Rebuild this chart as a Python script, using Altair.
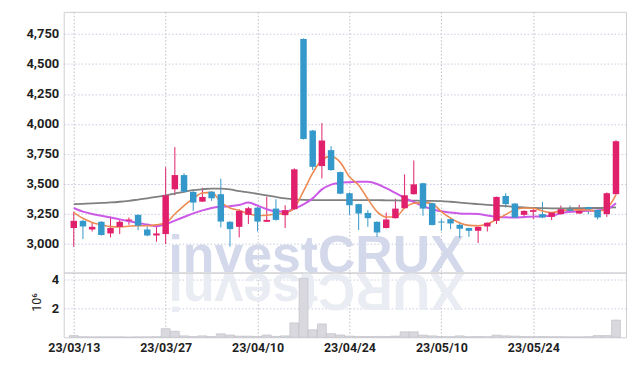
import altair as alt
import pandas as pd

# ---- data ----
tick_index = [0, 10, 20, 30, 40, 50]
tick_labels = ["23/03/13", "23/03/27", "23/04/10", "23/04/24", "23/05/10", "23/05/24"]
price_ticks = [3000, 3250, 3500, 3750, 4000, 4250, 4500, 4750]
volume_ticks = [2e6, 4e6]

opens = [3133, 3193, 3121, 3185, 3088, 3143, 3193, 3243, 3121, 3071,
         3083, 3456, 3574, 3434, 3353, 3436, 3415, 3185, 3143, 3243,
         3303, 3185, 3295, 3240, 3290, 4708, 3945, 3649, 3782, 3599,
         3423, 3332, 3259, 3185, 3133, 3215, 3298, 3415, 3506, 3340,
         3187, 3207, 3160, 3133, 3110, 3146, 3193, 3400, 3337, 3243,
         3268, 3249, 3226, 3249, 3290, 3254, 3307, 3284, 3249, 3415]
highs = [3268, 3200, 3179, 3190, 3229, 3201, 3221, 3245, 3146, 3143,
         3640, 3807, 3589, 3440, 3469, 3440, 3544, 3190, 3290, 3310,
         3308, 3395, 3373, 3323, 3630, 4712, 3950, 4008, 3815, 3603,
         3430, 3336, 3282, 3188, 3262, 3378, 3580, 3696, 3510, 3343,
         3207, 3210, 3185, 3136, 3145, 3180, 3395, 3423, 3340, 3279,
         3295, 3351, 3265, 3320, 3320, 3326, 3310, 3287, 3430, 3865]
lows = [2978, 3041, 3104, 3070, 3055, 3083, 3160, 3116, 3065, 3019,
        3000, 3406, 3430, 3276, 3350, 3359, 3138, 2978, 3055, 3166,
        3104, 3183, 3195, 3133, 3285, 3870, 3616, 3547, 3610, 3415,
        3243, 3116, 3143, 3060, 3130, 3212, 3295, 3412, 3235, 3155,
        3110, 3124, 3050, 3060, 3008, 3104, 3166, 3303, 3217, 3215,
        3207, 3215, 3199, 3245, 3262, 3252, 3249, 3204, 3226, 3412]
closes = [3193, 3146, 3143, 3075, 3133, 3185, 3204, 3152, 3071, 3088,
          3406, 3574, 3436, 3345, 3392, 3381, 3187, 3124, 3276, 3298,
          3187, 3201, 3201, 3282, 3622, 3875, 3643, 3862, 3616, 3419,
          3323, 3254, 3215, 3096, 3204, 3295, 3406, 3497, 3295, 3158,
          3179, 3171, 3127, 3110, 3143, 3177, 3392, 3332, 3220, 3276,
          3282, 3221, 3262, 3290, 3276, 3276, 3290, 3221, 3423, 3856]
volume_m = [0.12, 0.04, 0.03, 0.03, 0.03, 0.03, 0.02, 0.03, 0.03, 0.04,
            0.60, 0.42, 0.10, 0.05, 0.10, 0.05, 0.24, 0.16, 0.08, 0.08,
            0.06, 0.16, 0.06, 0.10, 1.00, 4.10, 0.52, 0.93, 0.25, 0.16,
            0.08, 0.06, 0.05, 0.06, 0.05, 0.08, 0.38, 0.38, 0.15, 0.10,
            0.05, 0.04, 0.10, 0.04, 0.05, 0.04, 0.15, 0.10, 0.08, 0.05,
            0.04, 0.05, 0.04, 0.04, 0.03, 0.03, 0.04, 0.12, 0.12, 1.20]
ma_short = [3262, 3215, 3180, 3160, 3145, 3143, 3148, 3152, 3152, 3160,
            3175, 3250, 3320, 3380, 3425, 3430, 3350, 3300, 3280, 3252,
            3238, 3240, 3250, 3258, 3300, 3440, 3590, 3700, 3732, 3680,
            3560, 3490, 3375, 3270, 3225, 3225, 3300, 3340, 3345, 3335,
            3270, 3215, 3175, 3155, 3152, 3166, 3205, 3245, 3285, 3300,
            3298, 3275, 3262, 3276, 3284, 3284, 3284, 3272, 3298, 3410]
ma_mid = [3300, 3270, 3250, 3235, 3220, 3205, 3190, 3175, 3162, 3148,
          3165, 3195, 3225, 3255, 3280, 3300, 3310, 3315, 3325, 3345,
          3320, 3290, 3272, 3268, 3295, 3330, 3380, 3455, 3495, 3510,
          3515, 3519, 3518, 3500, 3465, 3425, 3385, 3350, 3315, 3290,
          3272, 3262, 3255, 3252, 3249, 3238, 3227, 3222, 3221, 3225,
          3228, 3232, 3236, 3255, 3268, 3272, 3276, 3280, 3290, 3340]
ma_long = [3332, 3335, 3338, 3342, 3346, 3352, 3360, 3370, 3380, 3392,
           3405, 3420, 3435, 3448, 3456, 3462, 3462, 3455, 3440, 3430,
           3418, 3405, 3392, 3380, 3372, 3368, 3366, 3365, 3365, 3365,
           3365, 3365, 3365, 3365, 3364, 3363, 3362, 3361, 3360, 3360,
           3358, 3352, 3345, 3338, 3332, 3326, 3320, 3315, 3310, 3305,
           3300, 3298, 3297, 3297, 3298, 3299, 3300, 3300, 3302, 3305]

n = len(opens)
df = pd.DataFrame({
    "i": list(range(n)),
    "open": opens, "high": highs, "low": lows, "close": closes,
    "volume": [v * 1e6 for v in volume_m],
    "ma5": ma_short, "ma20": ma_mid, "ma60": ma_long,
})
df["dir"] = ["up" if c >= o else "down" for o, c in zip(opens, closes)]

FONT = "Roboto, sans-serif"
LABEL_COLOR = "#1f1f1f"
W = 565
H_PRICE = 262
H_VOL = 65
X_DOMAIN = [-0.55, 59.55]

label_expr = "[" + ",".join("'%s'" % t for t in tick_labels) + "][datum.value / 10]"
x_scale = alt.Scale(domain=X_DOMAIN, nice=False, zero=False)

x_price_axis = alt.Axis(values=tick_index, labels=False, ticks=False, domain=False,
                        grid=True, gridColor="#bcbcc4", gridDash=[1.5, 2], title=None)
x_vol_axis = alt.Axis(values=tick_index, labelExpr=label_expr, ticks=False, domain=False,
                      grid=True, gridColor="#bcbcc4", gridDash=[1.5, 2], title=None,
                      labelFont=FONT, labelFontSize=12.5, labelColor=LABEL_COLOR,
                      labelPadding=4, labelFontWeight="bold")

y_scale = alt.Scale(domain=[2762, 4934], nice=False, zero=False)
y_axis = alt.Axis(values=price_ticks, format=",.0f",
                  ticks=False, domain=False, grid=True, gridColor="#c8cbe0", gridDash=[1.5, 2],
                  labelFont=FONT, labelFontSize=13, labelColor=LABEL_COLOR, labelFontWeight="bold",
                  labelPadding=5, title=None)


def PX():
    return alt.X("i:Q", scale=x_scale, axis=x_price_axis)


def PY(field):
    return alt.Y(field, type="quantitative", scale=y_scale, axis=y_axis)


color = alt.Color("dir:N", scale=alt.Scale(domain=["up", "down"], range=["#e1206c", "#3498ca"]),
                  legend=None)

base = alt.Chart(df)

wm = alt.Chart(pd.DataFrame({"t": ["investCRUX"]})).mark_text(
    font="Liberation Sans, Arial, sans-serif", fontSize=52, fontWeight="bold",
    color="#d3d8ea", align="center", baseline="alphabetic"
).encode(x=alt.value(254), y=alt.value(261), text="t:N")

wicks = base.mark_rule(strokeWidth=1).encode(x=PX(), y=PY("low"), y2="high:Q", color=color)
bodies = base.mark_bar(width=6.5).encode(x=PX(), y=PY("open"), y2="close:Q", color=color)
l60 = base.mark_line(color="#808080", strokeWidth=1.8, interpolate="monotone").encode(
    x=PX(), y=PY("ma60"))
l20 = base.mark_line(color="#cb5ae6", strokeWidth=2, interpolate="monotone").encode(
    x=PX(), y=PY("ma20"))
l5 = base.mark_line(color="#ee8a52", strokeWidth=1.6, interpolate="monotone").encode(
    x=PX(), y=PY("ma5"))

price = alt.layer(wm, wicks, l60, l20, l5, bodies).properties(width=W, height=H_PRICE)

wm_ref = alt.Chart(pd.DataFrame({"t": ["XURCtsevni"]})).mark_text(
    font="Liberation Sans, Arial, sans-serif", fontSize=52, fontWeight="bold",
    color="#eaecf3", align="center", baseline="alphabetic", angle=180
).encode(x=alt.value(254), y=alt.value(1), text="t:N")

vol_bars = base.mark_bar(width=9, color="#d8d8de", stroke="#bdbdc6", strokeWidth=0.6).encode(
    x=alt.X("i:Q", scale=x_scale, axis=x_vol_axis),
    y=alt.Y("volume:Q", scale=alt.Scale(domain=[0, 4.5e6], nice=False),
            axis=alt.Axis(values=volume_ticks, labelExpr="datum.value / 1e6", ticks=False,
                          domain=False, grid=True, gridColor="#c8cbe0", gridDash=[1.5, 2],
                          labelFont=FONT, labelFontSize=13, labelColor=LABEL_COLOR,
                          labelFontWeight="bold", labelPadding=5, title=None)))

vol_title = alt.Chart(pd.DataFrame({"t": ["10⁶"]})).mark_text(
    font=FONT, fontSize=12.5, color=LABEL_COLOR, angle=270, align="center", baseline="middle"
).encode(x=alt.value(-27), y=alt.value(30), text="t:N")

volume = alt.layer(wm_ref, vol_bars, vol_title).properties(width=W, height=H_VOL)

chart = alt.vconcat(price, volume, spacing=0, bounds="flush").properties(
    padding={"left": 17, "top": 2, "right": 0, "bottom": 5}
).configure_view(stroke="#cfcfd4", strokeWidth=1).configure_concat(spacing=0)

chart.save("out.html", embed_options={"renderer": "svg", "actions": False})
